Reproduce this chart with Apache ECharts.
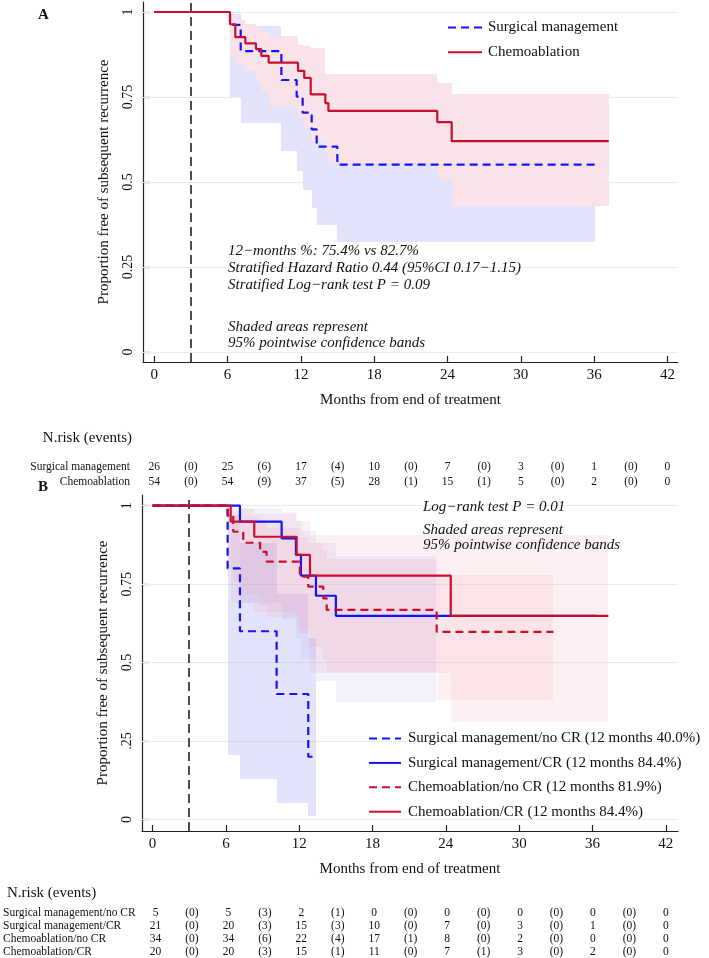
<!DOCTYPE html>
<html>
<head>
<meta charset="utf-8">
<script src="https://cdn.jsdelivr.net/npm/echarts@6/dist/echarts.min.js"></script>
<style>
  html, body { margin: 0; padding: 0; background: #fff; }
  #chart { width: 709px; height: 958px; }
</style>
</head>
<body>
<div id="chart"></div>
<script>
// axis ticks
const monthTicks = [0, 6, 12, 18, 24, 30, 36, 42];
const yTicks = [0, 0.25, 0.5, 0.75, 1];
const yTickLabelsA = ['0', '0.25', '0.5', '0.75', '1'];
const yTickLabelsB = ['0', '.25', '0.5', '0.75', '1'];
const riskMonths = [0, 6, 12, 18, 24, 30, 36, 42];
const eventMonths = [3, 9, 15, 21, 27, 33, 39];

// panel A - Kaplan-Meier steps and 95% bands
const surgTimesA = [0, 6.2, 7.07, 10.4, 11.65, 12.14, 12.88, 13.29, 14.98, 36.06];
const surgSurvA  = [1, 0.962, 0.885, 0.80, 0.751, 0.704, 0.655, 0.604, 0.551, 0.551];
const surgLoA    = [1, 0.751, 0.674, 0.59, 0.533, 0.476, 0.423, 0.374, 0.323, 0.323];
const surgHiA    = [1, 0.995, 0.96, 0.93, 0.89, 0.86, 0.83, 0.79, 0.75, 0.75];

const chemoTimesA = [0, 6.19, 6.63, 7.45, 8.32, 8.76, 9.36, 11.76, 12.27, 12.8, 14.0, 14.25, 23.16, 24.34, 37.2];
const chemoSurvA  = [1, 0.964, 0.926, 0.908, 0.891, 0.871, 0.851, 0.827, 0.806, 0.758, 0.732, 0.709, 0.676, 0.620, 0.620];
const chemoLoA    = [1, 0.87, 0.85, 0.83, 0.795, 0.765, 0.72, 0.69, 0.66, 0.62, 0.58, 0.555, 0.51, 0.43, 0.43];
const chemoHiA    = [1, 0.995, 0.975, 0.965, 0.955, 0.94, 0.925, 0.903, 0.90, 0.895, 0.818, 0.818, 0.792, 0.758, 0.758];

// panel B
const surgNoCrTimes = [0, 6.14, 7.15, 10.15, 12.74, 13.37];
const surgNoCrSurv  = [1, 0.8, 0.6, 0.4, 0.2, 0.2];
const surgNoCrLo    = [1, 0.205, 0.128, 0.054, 0.011, 0.011];
const surgNoCrHi    = [1, 0.97, 0.88, 0.72, 0.58, 0.58];

const surgCrTimes = [0, 7.15, 10.56, 11.73, 12.14, 13.37, 15.0, 36.3];
const surgCrSurv  = [1, 0.949, 0.896, 0.843, 0.777, 0.713, 0.649, 0.649];
const surgCrLo    = [1, 0.69, 0.64, 0.58, 0.51, 0.44, 0.375, 0.375];
const surgCrHi    = [1, 0.99, 0.98, 0.95, 0.92, 0.88, 0.84, 0.84];
const surgCrBandEnd = 23.2;

const chemoNoCrTimes = [0, 6.14, 6.6, 7.42, 8.8, 9.33, 12.05, 12.74, 13.97, 14.25, 23.25, 32.8];
const chemoNoCrSurv  = [1, 0.970, 0.917, 0.882, 0.853, 0.822, 0.774, 0.742, 0.705, 0.668, 0.598, 0.598];
const chemoNoCrLo    = [1, 0.80, 0.76, 0.72, 0.68, 0.645, 0.59, 0.55, 0.51, 0.47, 0.38, 0.38];
const chemoNoCrHi    = [1, 0.995, 0.98, 0.965, 0.95, 0.93, 0.90, 0.88, 0.86, 0.83, 0.78, 0.78];

const chemoCrTimes = [0, 6.39, 8.32, 11.79, 12.88, 24.4, 37.3];
const chemoCrSurv  = [1, 0.949, 0.901, 0.843, 0.777, 0.649, 0.649];
const chemoCrLo    = [1, 0.69, 0.66, 0.60, 0.466, 0.31, 0.31];
const chemoCrHi    = [1, 0.993, 0.975, 0.95, 0.907, 0.907, 0.907];

// numbers at risk (events)
const rowNamesA = ['Surgical management', 'Chemoablation'];
const riskSurgA  = [26, 25, 17, 10, 7, 3, 1, 0];
const eventsSurgA  = [0, 6, 4, 0, 0, 0, 0];
const riskChemoA = [54, 54, 37, 28, 15, 5, 2, 0];
const eventsChemoA = [0, 9, 5, 1, 1, 0, 0];

const rowNamesB = ['Surgical management/no CR', 'Surgical management/CR', 'Chemoablation/no CR', 'Chemoablation/CR'];
const twelveMonthB = ['40.0%', '84.4%', '81.9%', '84.4%'];
const riskSurgNoCr  = [5, 5, 2, 0, 0, 0, 0, 0];
const eventsSurgNoCr  = [0, 3, 1, 0, 0, 0, 0];
const riskSurgCr    = [21, 20, 15, 10, 7, 3, 1, 0];
const eventsSurgCr    = [0, 3, 3, 0, 0, 0, 0];
const riskChemoNoCr = [34, 34, 22, 17, 8, 2, 0, 0];
const eventsChemoNoCr = [0, 6, 4, 1, 0, 0, 0];
const riskChemoCr   = [20, 20, 15, 11, 7, 3, 2, 0];
const eventsChemoCr   = [0, 3, 1, 0, 1, 0, 0];

const FONT = '"Liberation Serif", "DejaVu Serif", serif';
const BLUE = '#1414f5';
const RED = '#c8102e';

function steps(times, surv) {
  return times.map((t, i) => [t, surv[i]]);
}
// one rectangle per interval between two event times
function bands(times, lo, hi, end) {
  const t = times.slice();
  if (end !== undefined) t[t.length - 1] = end;
  const out = [];
  for (let i = 1; i < t.length - 1; i++) out.push([t[i], t[i + 1], lo[i], hi[i]]);
  return out;
}
function riskCells(rows) {
  const out = [];
  rows.forEach((r, ri) => {
    r.risk.forEach((v, i) => out.push([riskMonths[i], ri, String(v)]));
    r.events.forEach((v, i) => out.push([eventMonths[i], ri, '(' + v + ')']));
  });
  return out;
}

function bandSeries(xi, data, fill) {
  return {
    type: 'custom', xAxisIndex: xi, yAxisIndex: xi, z: 2,
    data: data, encode: { x: [0, 1], y: [2, 3] },
    renderItem: (params, api) => {
      const p0 = api.coord([api.value(0), api.value(3)]);
      const p1 = api.coord([api.value(1), api.value(2)]);
      return {
        type: 'rect',
        shape: { x: Math.round(p0[0]), y: Math.round(p0[1]),
                 width: Math.round(p1[0]) - Math.round(p0[0]), height: Math.round(p1[1]) - Math.round(p0[1]) },
        style: { fill: fill }
      };
    }
  };
}
function kmSeries(xi, name, data, color, dashed) {
  return {
    type: 'line', name: name, xAxisIndex: xi, yAxisIndex: xi, z: 3,
    data: data, step: 'end', symbol: 'none', showSymbol: false,
    lineStyle: { color: color, width: 2.2, type: dashed ? [8, 5] : 'solid' },
    itemStyle: { color: color }
  };
}
function gridMarks(xi) {
  // horizontal grid lines + dashed line at end of treatment (3 months)
  return {
    type: 'line', xAxisIndex: xi, yAxisIndex: xi, data: [[-5, -5]], symbol: 'none',
    lineStyle: { opacity: 0 },
    markLine: {
      silent: true, symbol: ['none', 'none'], z: 1, animation: false,
      label: { show: false },
      lineStyle: { color: '#e4eef1', width: 1.2, type: 'solid' },
      data: yTicks.map(v => ({ yAxis: v })).concat([
        { xAxis: 3, lineStyle: { color: '#222', width: 1.6, type: [9, 5] } }
      ])
    }
  };
}
function riskSeries(xi, data, fontSize) {
  return {
    type: 'custom', xAxisIndex: xi, yAxisIndex: xi, data: data.map(d => [d[0], d[1]]),
    renderItem: (params, api) => {
      const p = api.coord([api.value(0), api.value(1)]);
      return {
        type: 'text', x: p[0], y: p[1],
        style: { text: data[params.dataIndex][2], font: fontSize + 'px ' + FONT, fill: '#111',
                 align: 'center', verticalAlign: 'middle', textAlign: 'center', textVerticalAlign: 'middle' }
      };
    }
  };
}

function plotX(gi, min, max) {
  return {
    type: 'value', gridIndex: gi, min: min, max: max,
    name: 'Months from end of treatment', nameLocation: 'middle', nameGap: 31,
    nameTextStyle: { fontFamily: FONT, fontSize: 15, color: '#111' },
    axisLine: { show: true, onZero: false, lineStyle: { color: '#222', width: 1.2 } },
    axisTick: { show: true, inside: true, length: 6, customValues: monthTicks, lineStyle: { color: '#222', width: 1.2 } },
    axisLabel: { customValues: monthTicks, margin: 6, fontFamily: FONT, fontSize: 15, color: '#111' },
    splitLine: { show: false }
  };
}
function plotY(gi, min, max, labels) {
  return {
    type: 'value', gridIndex: gi, min: min, max: max,
    name: 'Proportion free of subsequent recurrence', nameLocation: 'middle', nameGap: 31,
    nameTextStyle: { fontFamily: FONT, fontSize: 15, color: '#111' },
    axisLine: { show: true, onZero: false, lineStyle: { color: '#222', width: 1.2 } },
    axisTick: { show: true, inside: true, length: 7, customValues: yTicks, lineStyle: { color: '#222', width: 1.2 } },
    axisLabel: { customValues: yTicks, rotate: 90, margin: 8, fontFamily: FONT, fontSize: 14, color: '#111',
                 formatter: v => labels[yTicks.indexOf(Math.round(v * 100) / 100)] },
    splitLine: { show: false }
  };
}
function riskX(gi, min, max) {
  return { type: 'value', gridIndex: gi, min: min, max: max, show: false };
}
function riskY(gi, names, align, margin, fontSize) {
  return {
    type: 'category', gridIndex: gi, data: names, inverse: true,
    axisLine: { show: false }, axisTick: { show: false }, splitLine: { show: false },
    axisLabel: { interval: 0, align: align, margin: margin, fontFamily: FONT, fontSize: fontSize, color: '#111' }
  };
}
function txt(x, y, text, font, align) {
  return { type: 'text', x: x, y: y, z: 100,
           style: { text: text, font: font, fill: '#111', align: align || 'left', verticalAlign: 'middle',
                    textAlign: align || 'left', textVerticalAlign: 'middle' } };
}

const chart = echarts.init(document.getElementById('chart'), null, { renderer: 'canvas' });

const riskA = riskCells([
  { risk: riskSurgA, events: eventsSurgA },
  { risk: riskChemoA, events: eventsChemoA }
]);
const riskB = riskCells([
  { risk: riskSurgNoCr, events: eventsSurgNoCr },
  { risk: riskSurgCr, events: eventsSurgCr },
  { risk: riskChemoNoCr, events: eventsChemoNoCr },
  { risk: riskChemoCr, events: eventsChemoCr }
]);
const namesB = rowNamesB.map((n, i) => n + ' (12 months ' + twelveMonthB[i] + ')');

const option = {
  animation: false,
  backgroundColor: '#fff',
  textStyle: { fontFamily: FONT },
  grid: [
    { left: 143, right: 31, top: 2, bottom: 596 },
    { left: 143, right: 31, top: 459, height: 30 },
    { left: 142, right: 31, top: 495, bottom: 127 },
    { left: 142, right: 31, top: 906, height: 54 }
  ],
  xAxis: [
    plotX(0, -0.925, 42.86),
    riskX(1, -0.925, 42.86),
    plotX(2, -0.867, 43.0),
    riskX(3, -0.867, 43.0)
  ],
  yAxis: [
    plotY(0, -0.0294, 1.0294, yTickLabelsA),
    riskY(1, rowNamesA, 'right', 13, 11.5),
    plotY(2, -0.0366, 1.0341, yTickLabelsB),
    riskY(3, rowNamesB, 'left', 142, 11.5)
  ],
  legend: [
    {
      data: ['Surgical management', 'Chemoablation'], z: 50,
      orient: 'vertical', left: 442, top: 15, itemWidth: 34, itemHeight: 14, itemGap: 9.7,
      itemStyle: { opacity: 0 },
      textStyle: { fontFamily: FONT, fontSize: 15, color: '#111', padding: [0, 0, 0, 1] }
    },
    {
      data: namesB, z: 50,
      orient: 'vertical', left: 363, top: 726, itemWidth: 32, itemHeight: 14, itemGap: 9.4,
      itemStyle: { opacity: 0 },
      textStyle: { fontFamily: FONT, fontSize: 15, color: '#111', padding: [0, 0, 0, 2] }
    }
  ],
  series: [
    gridMarks(0),
    bandSeries(0, bands(surgTimesA, surgLoA, surgHiA), '#e3e3fb'),
    bandSeries(0, bands(chemoTimesA, chemoLoA, chemoHiA), '#f9e2e8'),
    kmSeries(0, 'Surgical management', steps(surgTimesA, surgSurvA), BLUE, true),
    kmSeries(0, 'Chemoablation', steps(chemoTimesA, chemoSurvA), RED, false),
    riskSeries(1, riskA, 11.5),

    gridMarks(2),
    bandSeries(2, bands(surgNoCrTimes, surgNoCrLo, surgNoCrHi), 'rgba(140,140,240,0.24)'),
    bandSeries(2, bands(surgCrTimes, surgCrLo, surgCrHi, surgCrBandEnd), 'rgba(150,150,240,0.12)'),
    bandSeries(2, bands(chemoNoCrTimes, chemoNoCrLo, chemoNoCrHi), 'rgba(238,150,170,0.14)'),
    bandSeries(2, bands(chemoCrTimes, chemoCrLo, chemoCrHi), 'rgba(238,150,170,0.14)'),
    kmSeries(2, namesB[0], steps(surgNoCrTimes, surgNoCrSurv), BLUE, true),
    kmSeries(2, namesB[1], steps(surgCrTimes, surgCrSurv), BLUE, false),
    kmSeries(2, namesB[2], steps(chemoNoCrTimes, chemoNoCrSurv), RED, true),
    kmSeries(2, namesB[3], steps(chemoCrTimes, chemoCrSurv), RED, false),
    riskSeries(3, riskB, 11.5)
  ],
  graphic: [
    txt(38, 15, 'A', 'bold 15px ' + FONT),
    txt(228, 251, '12\u2212months %: 75.4% vs 82.7%', 'italic 15px ' + FONT),
    txt(228, 268, 'Stratified Hazard Ratio 0.44 (95%CI 0.17\u22121.15)', 'italic 15px ' + FONT),
    txt(228, 285.5, 'Stratified Log\u2212rank test P = 0.09', 'italic 15px ' + FONT),
    txt(228, 327, 'Shaded areas represent', 'italic 15px ' + FONT),
    txt(228, 343, '95% pointwise confidence bands', 'italic 15px ' + FONT),
    txt(132, 438, 'N.risk (events)', '15px ' + FONT, 'right'),

    txt(38, 487, 'B', 'bold 15px ' + FONT),
    txt(423, 507, 'Log\u2212rank test P = 0.01', 'italic 15px ' + FONT),
    txt(423, 530, 'Shaded areas represent', 'italic 15px ' + FONT),
    txt(423, 545, '95% pointwise confidence bands', 'italic 15px ' + FONT),
    txt(7, 893, 'N.risk (events)', '15px ' + FONT)
  ]
};

chart.setOption(option);
</script>
</body>
</html>
